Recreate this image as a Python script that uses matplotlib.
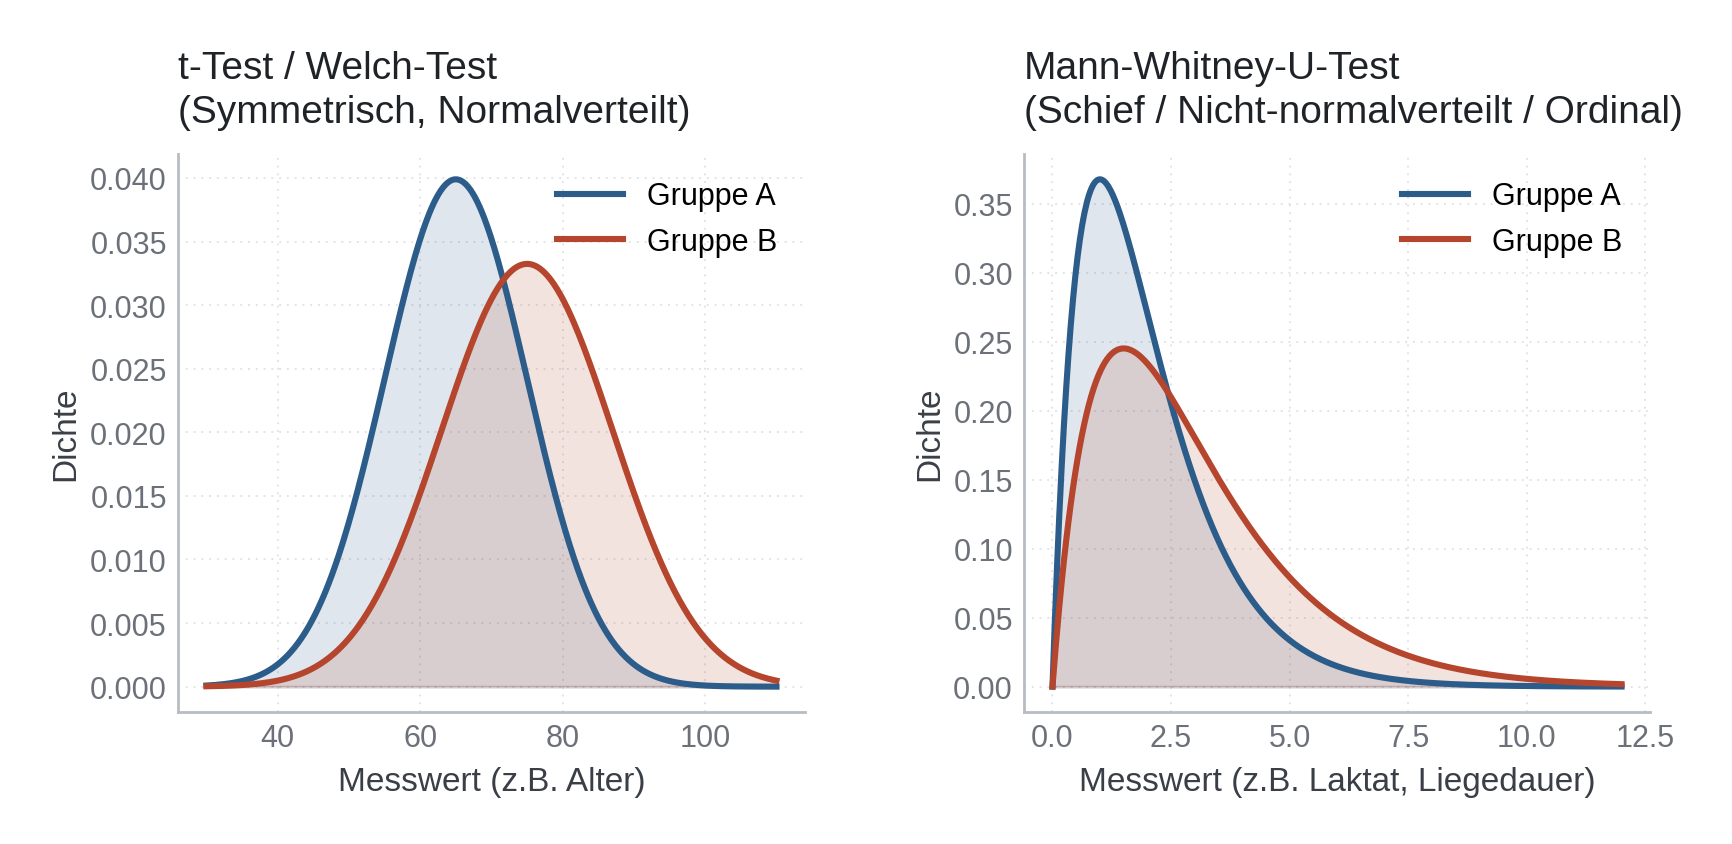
import numpy as np
import matplotlib
matplotlib.use("Agg")
import matplotlib.pyplot as plt

plt.rcParams['font.family'] = ['Liberation Sans', 'DejaVu Sans']

norm_range = [30, 110]
norm_a = (65, 10)
norm_b = (75, 12)

gamma_range = [0, 12]
gamma_a = (2, 1.0)
gamma_b = (2, 1.5)

labels = ['Gruppe A', 'Gruppe B']
colors = ['#2B5C8A', '#B5452D']

titles = ['t-Test / Welch-Test\n(Symmetrisch, Normalverteilt)',
          'Mann-Whitney-U-Test\n(Schief / Nicht-normalverteilt / Ordinal)']
xlabels = ['Messwert (z.B. Alter)', 'Messwert (z.B. Laktat, Liegedauer)']


def norm_pdf(x, mu, sd):
    return np.exp(-0.5 * ((x - mu) / sd) ** 2) / (sd * np.sqrt(2 * np.pi))


def gamma_pdf(x, k, theta):
    # k = 2 -> Gamma(2) = 1
    return x ** (k - 1) * np.exp(-x / theta) / (theta ** k)


x1 = np.linspace(norm_range[0], norm_range[1], 500)
x2 = np.linspace(gamma_range[0], gamma_range[1], 500)
curves = [
    (x1, [norm_pdf(x1, *norm_a), norm_pdf(x1, *norm_b)]),
    (x2, [gamma_pdf(x2, *gamma_a), gamma_pdf(x2, *gamma_b)]),
]

fig = plt.figure(figsize=(8.665, 4.225), dpi=200)
ax1 = fig.add_axes([0.1027, 0.1562, 0.3618, 0.6604])
ax2 = fig.add_axes([0.5909, 0.1562, 0.3612, 0.6604])

for ax, (x, ys), title, xl in zip([ax1, ax2], curves, titles, xlabels):
    for y, lab, c in zip(ys, labels, colors):
        ax.plot(x, y, color=c, lw=2.2, label=lab)
        ax.fill_between(x, y, color=c, alpha=0.15)
    ax.set_title(title, loc='left', fontsize=14, color='#1f2328', pad=11.5,
                 linespacing=1.27)
    ax.set_xlabel(xl, fontsize=12, color='#3a3f47', labelpad=4.5)
    ax.set_ylabel('Dichte', fontsize=12, color='#3a3f47', labelpad=3)
    ax.tick_params(length=0, pad=4, labelsize=11, labelcolor='#6b7079')
    ax.grid(True, ls=(0, (1, 3)), lw=0.7, color='#e2e4e7')
    ax.set_axisbelow(True)
    for s in ['top', 'right']:
        ax.spines[s].set_visible(False)
    for s in ['left', 'bottom']:
        ax.spines[s].set_color('#b8bcc3')
        ax.spines[s].set_linewidth(1.0)
    ax.legend(loc='upper right', frameon=False, fontsize=11, handlelength=2.15)

ax1.set_yticks(np.arange(0, 0.0401, 0.005))
ax1.yaxis.set_major_formatter(matplotlib.ticker.FormatStrFormatter('%.3f'))
ax1.set_xticks([40, 60, 80, 100])
ax2.set_yticks(np.arange(0, 0.351, 0.05))
ax2.yaxis.set_major_formatter(matplotlib.ticker.FormatStrFormatter('%.2f'))
ax2.set_xticks([0, 2.5, 5, 7.5, 10, 12.5])
ax2.xaxis.set_major_formatter(matplotlib.ticker.FormatStrFormatter('%.1f'))

fig.savefig('out.png', dpi=200)
